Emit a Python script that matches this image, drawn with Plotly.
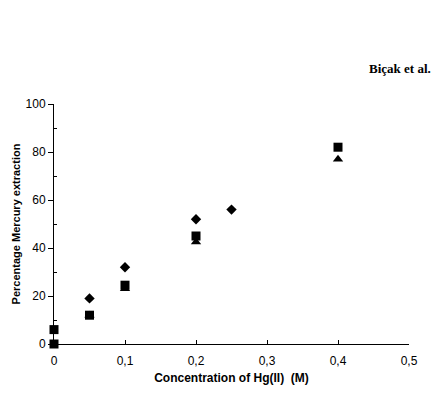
import plotly.graph_objects as go

# Data
diamond_x = [0.05, 0.1, 0.2, 0.25]
diamond_y = [19, 32, 52, 56]
square_x = [0, 0, 0.05, 0.1, 0.2, 0.4]
square_y = [0, 6, 12, 24.5, 45, 82]
triangle_x = [0.05, 0.1, 0.2, 0.4]
triangle_y = [12, 23, 42.5, 77]

x_ticks = [0, 0.1, 0.2, 0.3, 0.4, 0.5]
x_ticklabels = ["0", "0,1", "0,2", "0,3", "0,4", "0,5"]
y_ticks = [0, 20, 40, 60, 80, 100]
y_minor = [10, 30, 50, 70, 90]

fig = go.Figure()
fig.add_trace(go.Scatter(x=triangle_x, y=triangle_y, mode="markers",
                         marker=dict(symbol="triangle-up", size=9, color="black"),
                         cliponaxis=False, showlegend=False))
fig.add_trace(go.Scatter(x=square_x, y=square_y, mode="markers",
                         marker=dict(symbol="square", size=9, color="black"),
                         cliponaxis=False, showlegend=False))
fig.add_trace(go.Scatter(x=diamond_x, y=diamond_y, mode="markers",
                         marker=dict(symbol="diamond", size=8, color="black"),
                         cliponaxis=False, showlegend=False))

fig.update_layout(
    width=435, height=394,
    margin=dict(l=54, r=26, t=104, b=50, autoexpand=False),
    paper_bgcolor="white", plot_bgcolor="white",
    font=dict(family="Liberation Sans, Arial", size=12, color="black"),
    xaxis=dict(range=[0, 0.5], tickvals=x_ticks, ticktext=x_ticklabels, automargin=False,
               showgrid=False, zeroline=False, showline=True, linecolor="black",
               linewidth=1, ticks="inside", ticklen=4, tickcolor="black",
               tickfont=dict(size=12), ticklabelstandoff=6,
               title=dict(text="<b>Concentration of Hg(II)  (M)</b>", font=dict(size=12), standoff=6)),
    yaxis=dict(range=[0, 100], tickvals=y_ticks, automargin=False,
               showgrid=False, zeroline=False, showline=True, linecolor="black",
               linewidth=1, ticks="outside", ticklen=5, tickcolor="black",
               tickfont=dict(size=12),
               minor=dict(tickvals=y_minor, ticks="inside", ticklen=3, tickcolor="black"),
               title=dict(text="<b>Percentage Mercury extraction</b>", font=dict(size=11), standoff=2)),
    annotations=[dict(text="<b>Biçak et al.</b>", xref="paper", yref="paper",
                      x=(433 - 54) / 355, y=(394 - 68 - 50) / 240, xanchor="right", yanchor="middle",
                      showarrow=False, font=dict(family="Liberation Serif, Times New Roman", size=13, color="black"))],
)

fig.write_html("out.html")
